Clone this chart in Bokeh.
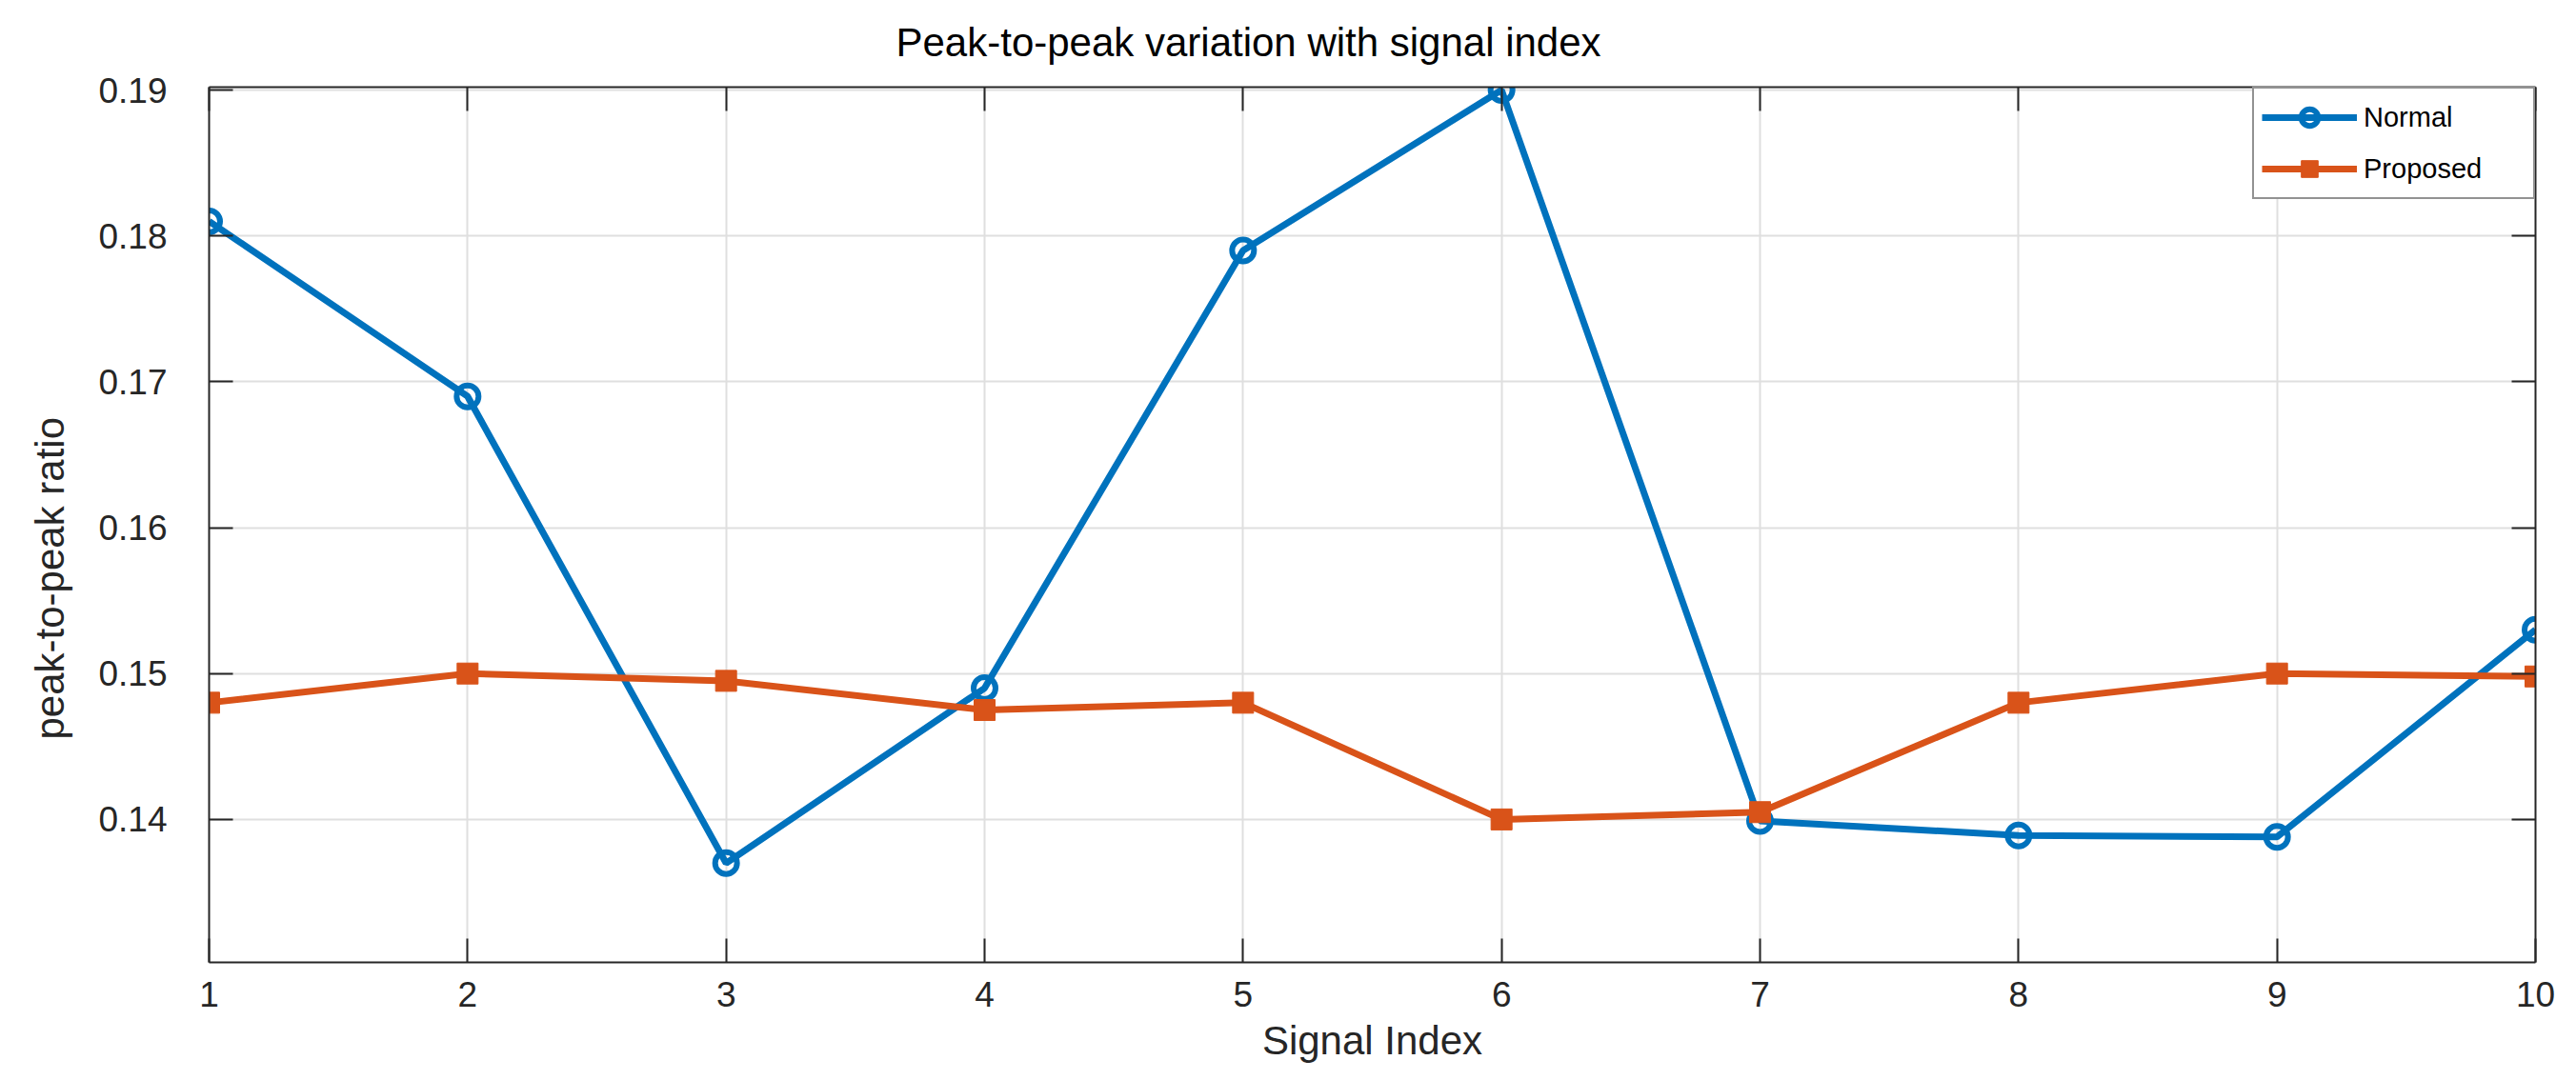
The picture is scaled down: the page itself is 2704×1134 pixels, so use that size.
from bokeh.plotting import figure
from bokeh.models import Range1d, FixedTicker, LinearAxis, Legend, LegendItem, Title
from bokeh.embed import file_html
from bokeh.resources import INLINE

# ---- data ----
signal_index = [1, 2, 3, 4, 5, 6, 7, 8, 9, 10]
normal = [0.181, 0.169, 0.137, 0.149, 0.179, 0.190, 0.1399, 0.1389, 0.1388, 0.153]
proposed = [0.148, 0.150, 0.1495, 0.1475, 0.148, 0.140, 0.1405, 0.148, 0.150, 0.1498]
series_names = ["Normal", "Proposed"]
x_ticks = [1, 2, 3, 4, 5, 6, 7, 8, 9, 10]
y_ticks = [0.14, 0.15, 0.16, 0.17, 0.18, 0.19]
y_tick_labels = ["0.14", "0.15", "0.16", "0.17", "0.18", "0.19"]
title_text = "Peak-to-peak variation with signal index"
x_label = "Signal Index"
y_label = "peak-to-peak ratio"

FONT = "Liberation Sans"
DARK = "#262626"
BLUE = "#0072BD"
ORANGE = "#D95319"

p = figure(width=2704, height=1134, output_backend="svg", toolbar_location=None,
           x_range=Range1d(1, 10), y_range=Range1d(0.1302, 0.1902),
           min_border_left=219, min_border_right=43, min_border_top=91, min_border_bottom=124,
           x_axis_label=x_label)
p.outline_line_color = None
p.background_fill_color = "white"
p.border_fill_color = "white"

# title (an empty second line lifts it further above the frame, like the original)
p.title.text = title_text + "\n"
p.title.align = "left"
p.title.offset = 721
p.title.standoff = 0
p.title.text_line_height = 0.5
p.title.text_font = FONT
p.title.text_font_size = "42px"
p.title.text_font_style = "normal"
p.title.text_color = "black"

# y label as a left title (positioned like the original)
p.add_layout(Title(text=y_label, align="left", offset=234, text_font=FONT,
                   text_font_size="42px", text_font_style="normal", text_color=DARK,
                   standoff=49), "left")

def style_axis(ax, show_labels=True):
    ax.axis_line_color = DARK
    ax.axis_line_width = 2
    ax.major_tick_line_color = DARK
    ax.major_tick_line_width = 2
    ax.major_tick_in = 25
    ax.major_tick_out = 0
    ax.minor_tick_line_color = None
    ax.major_label_text_font = FONT
    ax.major_label_text_font_size = "37px"
    if show_labels:
        ax.major_label_text_color = DARK
    else:
        ax.major_label_text_color = None
        ax.major_label_standoff = 0

xa = p.xaxis[0]
xa.ticker = FixedTicker(ticks=x_ticks)
style_axis(xa)
xa.major_label_standoff = 20
xa.axis_label_text_font = FONT
xa.axis_label_text_font_size = "42px"
xa.axis_label_text_font_style = "normal"
xa.axis_label_text_color = DARK
xa.axis_label_standoff = 9

ya = p.yaxis[0]
ya.ticker = FixedTicker(ticks=y_ticks)
ya.major_label_overrides = dict(zip(y_ticks, y_tick_labels))
style_axis(ya)
ya.major_label_standoff = 44

top_axis = LinearAxis(ticker=FixedTicker(ticks=x_ticks))
style_axis(top_axis, show_labels=False)
p.add_layout(top_axis, "above")
right_axis = LinearAxis(ticker=FixedTicker(ticks=y_ticks))
style_axis(right_axis, show_labels=False)
p.add_layout(right_axis, "right")

p.xgrid.ticker = FixedTicker(ticks=x_ticks)
p.ygrid.ticker = FixedTicker(ticks=y_ticks)
for g in (p.xgrid[0], p.ygrid[0]):
    g.grid_line_color = "#dfdfdf"
    g.grid_line_width = 2

l1 = p.line(signal_index, normal, line_color=BLUE, line_width=7)
s1 = p.scatter(signal_index, normal, marker="circle", size=23, line_color=BLUE,
               line_width=6, fill_color=None)
l2 = p.line(signal_index, proposed, line_color=ORANGE, line_width=7)
s2 = p.scatter(signal_index, proposed, marker="square", size=22, line_color=ORANGE,
               line_width=1, fill_color=ORANGE)

legend = Legend(items=[LegendItem(label=series_names[0], renderers=[l1, s1]),
                       LegendItem(label=series_names[1], renderers=[l2, s2])],
                location="top_right", margin=0, padding=8, spacing=10,
                glyph_width=100, glyph_height=44, label_height=44, label_width=170,
                label_standoff=7, label_text_font=FONT, label_text_font_size="29px",
                label_text_color="black", border_line_color=DARK, border_line_width=2,
                background_fill_color="white", background_fill_alpha=1)
p.add_layout(legend)

open("out.html", "w").write(file_html(p, INLINE))
